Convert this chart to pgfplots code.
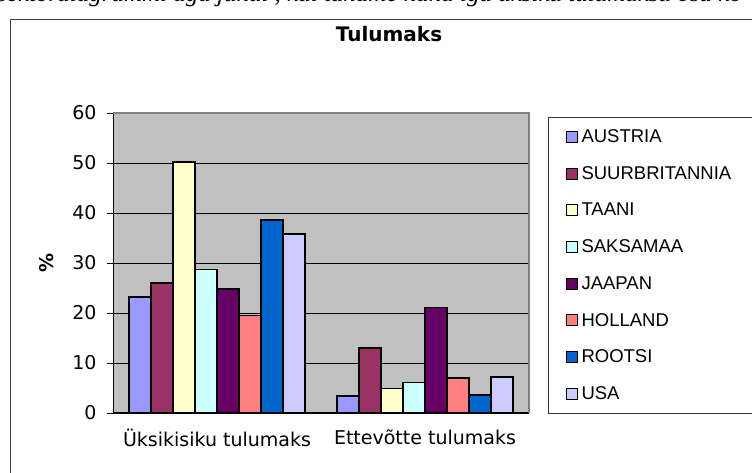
\documentclass[border=0pt]{standalone}
\usepackage{fontspec}
\setmainfont{DejaVu Sans}
\newfontfamily\legfont{Liberation Sans}
\newfontfamily\serifit{Liberation Serif}
\usepackage{pgfplots}
\pgfplotsset{compat=1.18}
\definecolor{cA}{HTML}{9999FF}
\definecolor{cB}{HTML}{993366}
\definecolor{cC}{HTML}{FFFFCC}
\definecolor{cD}{HTML}{CCFFFF}
\definecolor{cE}{HTML}{660066}
\definecolor{cF}{HTML}{FF8080}
\definecolor{cG}{HTML}{0066CC}
\definecolor{cH}{HTML}{CCCCFF}
\definecolor{bgc}{HTML}{C0C0C0}
\definecolor{bord}{HTML}{808080}
\begin{document}
\begin{tikzpicture}[x=1pt,y=1pt]
\path[use as bounding box] (0,0) rectangle (752,473);
\node[anchor=base west, inner sep=0pt, font=\fontsize{25}{27}\selectfont\serifit\itshape] at (-3,471) {sektordiagrammi aga juhul , kui tahame näha iga üksiku tulumaksu osa ko};
\draw[black!75, line width=1pt] (10.5,-10) -- (10.5,453.5) -- (770,453.5);
\node[font=\fontsize{20}{22}\selectfont\bfseries] at (389,439) {Tulumaks};
\begin{axis}[
  at={(113pt,60pt)}, anchor=south west,
  scale only axis, width=416pt, height=300pt,
  ybar=0pt, bar width=22pt,
  xmin=-0.5, xmax=1.5,
  ymin=0, ymax=60,
  xtick={0,1},
  xticklabels={Üksikisiku tulumaks, Ettevõtte tulumaks},
  x tick style={draw=none},
  extra x ticks={-0.5,0.5,1.5},
  extra x tick labels={},
  extra x tick style={tick style={draw=black, line width=0.8pt}, major tick length=6pt, grid=none},
  ytick={0,10,...,60},
  ymajorgrids,
  grid style={black, line width=0.8pt},
  tick align=outside,
  major tick length=6pt,
  y tick style={black, line width=0.8pt},
  axis x line*=bottom, axis y line*=left,
  axis line style={-, black, line width=1pt},
  axis background/.style={fill=bgc},
  after end axis/.code={\draw[bord, line width=1.2pt] (rel axis cs:0,1) -- (rel axis cs:1,1) -- (rel axis cs:1,0);},
  tick label style={font=\fontsize{19}{21}\selectfont},
  /pgf/number format/assume math mode=true,
  yticklabel style={xshift=-7pt},
  xticklabel style={yshift=-7pt},
  ylabel={\%},
  ylabel style={at={(axis description cs:-0.16,0.5)}, anchor=center, font=\fontsize{19}{21}\selectfont\bfseries},
  legend style={
    at={(axis description cs:1.0457,0.9867)}, anchor=north west,
    draw=black!80, line width=1pt,
    font=\fontsize{18.5}{20}\selectfont\legfont,
    row sep=20.4pt, inner xsep=17pt, inner ysep=11pt,
    nodes={inner sep=1pt},
    /tikz/every odd column/.append style={column sep=3pt},
  },
  legend cell align=left,
  legend image code/.code={\draw[#1, line width=1pt] (0pt,-5.5pt) rectangle (11pt,5.5pt);},
  every axis plot/.append style={draw=black, line width=1.1pt},
]
\addplot[fill=cA] coordinates {(0,23.2) (1,3.4)};
\addplot[fill=cB] coordinates {(0,26.0) (1,13.0)};
\addplot[fill=cC] coordinates {(0,50.2) (1,4.9)};
\addplot[fill=cD] coordinates {(0,28.7) (1,6.1)};
\addplot[fill=cE] coordinates {(0,24.8) (1,21.1)};
\addplot[fill=cF] coordinates {(0,19.5) (1,7.0)};
\addplot[fill=cG] coordinates {(0,38.6) (1,3.6)};
\addplot[fill=cH] coordinates {(0,35.8) (1,7.2)};
\legend{AUSTRIA, SUURBRITANNIA\hspace*{30pt}, TAANI, SAKSAMAA, JAAPAN, HOLLAND, ROOTSI, USA}
\end{axis}
\end{tikzpicture}
\end{document}
